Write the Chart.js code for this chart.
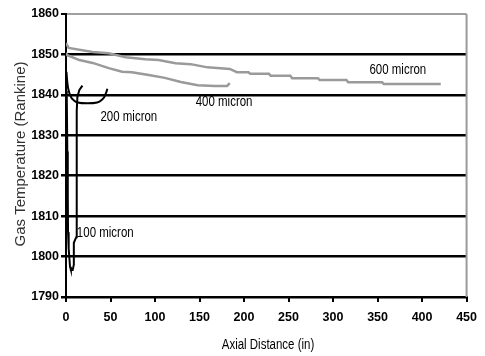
<!DOCTYPE html>
<html>
<head>
<meta charset="utf-8">
<script src="https://cdn.jsdelivr.net/npm/chart.js@4/dist/chart.umd.min.js"></script>
<style>
  html, body { margin: 0; padding: 0; background: #fff; }
  #wrap { width: 485px; height: 356px; position: relative; }
</style>
</head>
<body>
<div id="wrap"><canvas id="tempChart"></canvas></div>
<script>
// Gas temperature along the axial distance, one run per particle size
const dist600 = [0, 3, 30, 48, 67, 89, 104, 123, 140, 159, 184, 192, 205, 207, 228, 230, 252, 254, 283, 285, 315, 317, 355, 357, 421];
const temp600 = [1852.8, 1851.6, 1850.6, 1850.3, 1849.3, 1848.8, 1848.6, 1847.8, 1847.6, 1846.8, 1846.4, 1845.6, 1845.6, 1845.2, 1845.2, 1844.7, 1844.7, 1844.1, 1844.1, 1843.7, 1843.7, 1843.1, 1843.1, 1842.7, 1842.7];

const dist400 = [0, 1.5, 15, 30, 48, 63, 74, 93, 111, 129, 148, 167, 181, 184];
const temp400 = [1850.4, 1849.8, 1848.6, 1847.9, 1846.6, 1845.7, 1845.6, 1844.9, 1844.2, 1843.2, 1842.4, 1842.2, 1842.2, 1842.9];

const dist200 = [0.5, 1.5, 2.5, 5.5, 9, 13, 24, 35, 40, 43, 45, 46.5];
const temp200 = [1845.7, 1843, 1841.5, 1839.5, 1838.6, 1838.1, 1837.9, 1838.1, 1838.7, 1839.5, 1840.5, 1841.5];

const dist100 = [0.8, 1.5, 2, 2.3, 3, 4.5, 5.5, 7.5, 8.8, 8.8, 11.5, 12, 12.1, 12.8, 15, 18.5];
const temp100 = [1841, 1826, 1815, 1806, 1802, 1797.5, 1796.7, 1796.7, 1798, 1803.4, 1804.8, 1806.5, 1836, 1839.5, 1841.2, 1842.3];

const xTicks = [0, 50, 100, 150, 200, 250, 300, 350, 400, 450];
const yTicks = [1790, 1800, 1810, 1820, 1830, 1840, 1850, 1860];

// series labels placed next to each curve (data coordinates)
const seriesNames = ["600 micron", "400 micron", "200 micron", "100 micron"];
const nameX = [372.8, 177.6, 70.6, 44.1];
const nameY = [1846.1, 1838.2, 1834.5, 1805.8];

const FONT = "'Liberation Sans', Arial, sans-serif";

function toPoints(xs, ys) {
  return xs.map((x, i) => ({ x: x, y: ys[i] }));
}

// narrow text: squeeze the regular face horizontally
function condensedText(ctx, text, x, y, squeeze) {
  ctx.save();
  ctx.translate(x, y);
  ctx.scale(squeeze, 1);
  ctx.fillText(text, 0, 0);
  ctx.restore();
}

const frameAndText = {
  id: "frameAndText",
  beforeDatasetsDraw(chart) {
    const { ctx, chartArea } = chart;
    ctx.save();
    ctx.strokeStyle = "#9a9a9a";
    ctx.lineWidth = 2;
    ctx.beginPath();
    ctx.moveTo(chartArea.right, chartArea.top);
    ctx.lineTo(chartArea.right, chartArea.bottom);
    ctx.stroke();
    ctx.restore();
  },
  afterDraw(chart) {
    const { ctx, scales } = chart;
    ctx.save();
    ctx.fillStyle = "#000";
    ctx.textAlign = "center";
    ctx.textBaseline = "middle";
    ctx.font = "14px " + FONT;
    seriesNames.forEach((name, i) => {
      condensedText(ctx, name, scales.x.getPixelForValue(nameX[i]), scales.y.getPixelForValue(nameY[i]), 0.82);
    });

    // axis titles
    condensedText(ctx, "Axial Distance (in)", 268, 345, 0.82);
    ctx.fillStyle = "#333";
    ctx.font = "15px " + FONT;
    ctx.translate(21, 154);
    ctx.rotate(-Math.PI / 2);
    ctx.fillText("Gas Temperature (Rankine)", 0, 0);
    ctx.restore();
  },
};

new Chart(document.getElementById("tempChart"), {
  type: "scatter",
  data: {
    datasets: [
      { label: "600 micron", data: toPoints(dist600, temp600), borderColor: "#9a9a9a", borderWidth: 2.5 },
      { label: "400 micron", data: toPoints(dist400, temp400), borderColor: "#9a9a9a", borderWidth: 2.5 },
      { label: "200 micron", data: toPoints(dist200, temp200), borderColor: "#000", borderWidth: 2, cubicInterpolationMode: "monotone" },
      { label: "100 micron", data: toPoints(dist100, temp100), borderColor: "#000", borderWidth: 2 },
    ].map((d) => Object.assign({ showLine: true, pointRadius: 0, fill: false }, d)),
  },
  options: {
    responsive: true,
    maintainAspectRatio: false,
    animation: false,
    layout: { padding: { top: 14, right: 11, left: 0, bottom: 0 } },
    plugins: { legend: { display: false }, tooltip: { enabled: false } },
    scales: {
      x: {
        type: "linear",
        min: 0,
        max: 450,
        afterBuildTicks: (scale) => { scale.ticks = xTicks.map((v) => ({ value: v })); },
        afterFit: (scale) => { scale.height = 59; },
        border: { color: "#000", width: 2 },
        grid: { drawOnChartArea: false, drawTicks: true, tickLength: 5, color: "#000", lineWidth: 2 },
        ticks: { color: "#000", padding: 8, maxRotation: 0, callback: (v) => String(v), font: { family: FONT, size: 12.5, weight: "bold" } },
      },
      y: {
        min: 1790,
        max: 1860,
        afterBuildTicks: (scale) => { scale.ticks = yTicks.map((v) => ({ value: v })); },
        afterFit: (scale) => { scale.width = 66; },
        border: { color: "#000", width: 2 },
        grid: {
          color: (c) => (c.tick && c.tick.value === 1860 ? "#a0a0a0" : "#000"),
          lineWidth: (c) => (c.tick && c.tick.value === 1860 ? 2 : 2.5),
          tickColor: "#000",
          tickLength: 5,
        },
        ticks: { color: "#000", padding: 2, callback: (v) => String(v), font: { family: FONT, size: 12.5, weight: "bold" } },
      },
    },
  },
  plugins: [frameAndText],
});
</script>
</body>
</html>
